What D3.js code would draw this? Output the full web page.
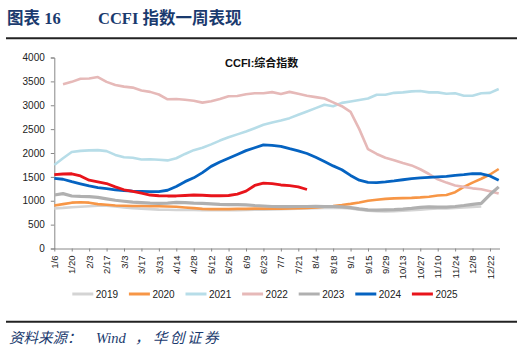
<!DOCTYPE html>
<html><head><meta charset="utf-8">
<script src="https://cdn.jsdelivr.net/npm/d3@7/dist/d3.min.js"></script>
<style>
html,body{margin:0;padding:0;background:#fff;}
svg{display:block;}
</style></head>
<body>
<svg id="chart" width="524" height="352"></svg>
<script>
const categories = ["1/6","1/13","1/20","1/27","2/3","2/10","2/17","2/24","3/3","3/10","3/17","3/24","3/31","4/7","4/14","4/21","4/28","5/5","5/12","5/19","5/26","6/2","6/9","6/16","6/23","6/30","7/7","7/14","7/21","7/28","8/4","8/11","8/18","8/25","9/1","9/8","9/15","9/22","9/29","10/6","10/13","10/20","10/27","11/3","11/10","11/17","11/24","12/1","12/8","12/15","12/22","12/29"];
const yTicks = [0,500,1000,1500,2000,2500,3000,3500,4000];
const s2019 = [840,850,865,875,885,895,895,880,860,845,835,825,815,810,805,805,805,800,800,800,800,800,805,810,815,820,825,830,835,840,845,850,855,850,840,810,790,780,775,780,790,800,815,830,840,840,850,860,870,880,null,null];
const s2020 = [900,930,960,970,960,930,915,900,895,890,890,885,885,880,875,860,845,830,825,825,825,830,830,835,835,835,835,840,845,850,860,875,890,910,935,965,1000,1020,1040,1050,1055,1060,1070,1085,1110,1120,1180,1290,1380,1460,1550,1665];
const s2021 = [1750,1890,2020,2045,2055,2060,2040,1960,1910,1900,1865,1870,1860,1845,1890,1980,2060,2110,2180,2260,2330,2390,2450,2520,2590,2640,2680,2730,2800,2870,2940,3010,2980,3050,3080,3110,3140,3220,3220,3260,3270,3290,3300,3270,3270,3240,3250,3200,3200,3250,3260,3340];
const s2022 = [null,3440,3490,3555,3560,3590,3490,3425,3390,3370,3310,3280,3225,3125,3130,3115,3095,3055,3085,3130,3190,3195,3230,3250,3250,3275,3235,3280,3240,3200,3170,3140,3060,2980,2860,2500,2080,1980,1900,1850,1790,1740,1660,1560,1450,1380,1320,1290,1260,1240,1200,1150];
const s2023 = [1120,1150,1100,1090,1085,1070,1040,1010,990,970,960,950,945,950,965,960,950,945,935,925,920,920,915,900,890,880,875,875,880,880,885,880,880,870,855,830,810,805,810,815,825,840,860,870,865,865,880,900,925,945,1130,1290];
const s2024 = [1470,1450,1400,1355,1310,1275,1255,1230,1215,1200,1195,1190,1190,1220,1300,1400,1480,1590,1720,1810,1890,1970,2050,2110,2170,2160,2140,2090,2045,1990,1910,1820,1730,1650,1530,1430,1385,1380,1395,1415,1440,1465,1480,1490,1500,1510,1530,1545,1570,1565,1520,1430];
const s2025 = [1545,1560,1565,1520,1430,1395,1360,1290,1230,1195,1160,1120,1105,1100,1100,1110,1120,1115,1105,1105,1110,1140,1200,1320,1370,1360,1330,1315,1290,1235];
const seriesNames = ["2019","2020","2021","2022","2023","2024","2025"];
const seriesColors = ["#d4d4d4","#f79646","#b7dde8","#e6b9b8","#b0b0b0","#0563c1","#e8141b"];
const seriesData = [s2019,s2020,s2021,s2022,s2023,s2024,s2025];
const seriesWidths = [2.6,2.6,2.6,2.6,3.2,2.8,2.8];

const svg = d3.select("#chart");
const navy = "#1a3a6e";

// Title
svg.append("text").attr("x",7).attr("y",24)
  .attr("font-family","'Liberation Serif','Noto Sans CJK SC',serif")
  .attr("font-weight","bold").attr("font-size",16.5).attr("fill",navy)
  .text("图表 16");
svg.append("text").attr("x",98).attr("y",24)
  .attr("font-family","'Liberation Serif','Noto Sans CJK SC',serif")
  .attr("font-weight","bold").attr("font-size",16.5).attr("fill",navy)
  .text("CCFI 指数一周表现");
svg.append("line").attr("x1",6).attr("x2",517).attr("y1",38.3).attr("y2",38.3)
  .attr("stroke","#222").attr("stroke-width",2);
svg.append("line").attr("x1",6).attr("x2",517).attr("y1",321.7).attr("y2",321.7)
  .attr("stroke","#222").attr("stroke-width",2);

// Source
const src = svg.append("text").attr("y",343)
  .attr("font-family","'Liberation Serif','Noto Sans CJK SC',serif")
  .attr("font-style","italic").attr("font-size",14.5).attr("fill",navy);
src.append("tspan").attr("x",9).text("资料来源：");
src.append("tspan").attr("x",96).text("Wind");
src.append("tspan").attr("x",135).text("，");
src.append("tspan").attr("x",153).attr("letter-spacing",2.5).text("华创证券");

// Scales
const x = d3.scalePoint().domain(categories).range([54.3,498.7]).padding(0);
const y = d3.scaleLinear().domain([0,4000]).range([248.5,57.5]);

// Y axis
const yAxis = d3.axisLeft(y).tickValues(yTicks).tickSize(3.5).tickPadding(6).tickFormat(d3.format("d"));
const gy = svg.append("g").attr("transform","translate(54.3,0)").call(yAxis);
gy.selectAll("path.domain").attr("stroke","#888").attr("stroke-width",1);
gy.selectAll(".tick line").attr("stroke","#888");
gy.selectAll("text").attr("font-family","'Liberation Sans',Arial,sans-serif").attr("font-size",10).attr("fill","#222");

// X axis
const xAxis = d3.axisBottom(x).tickValues(categories.filter((d,i)=>i%2===0)).tickSize(3).tickSizeOuter(0);
const gx = svg.append("g").attr("transform","translate(0,248.5)").call(xAxis);
gx.selectAll("path.domain").attr("stroke","#888").attr("stroke-width",1).attr("d","M54.3,0.5H500");
gx.selectAll(".tick line").attr("stroke","#888");
gx.selectAll("text")
  .attr("font-family","'Liberation Sans',Arial,sans-serif").attr("font-size",9.5).attr("fill","#222")
  .attr("transform","rotate(-90)").attr("text-anchor","end")
  .attr("x",-7).attr("y",0).attr("dy","0.33em");

// Chart title
svg.append("text").attr("x",225).attr("y",67)
  .attr("font-family","'Liberation Sans','Noto Sans CJK SC',sans-serif")
  .attr("font-weight","bold").attr("font-size",11).attr("fill","#111")
  .text("CCFI:综合指数");

// Lines
const line = d3.line().defined(d=>d.v!=null).x(d=>x(d.c)).y(d=>y(d.v));
seriesData.forEach((arr,k)=>{
  const pts = arr.map((v,i)=>({c:categories[i],v:v}));
  svg.append("path").datum(pts).attr("d",line).attr("fill","none")
    .attr("stroke",seriesColors[k]).attr("stroke-width",seriesWidths[k])
    .attr("stroke-linejoin","round").attr("stroke-linecap","butt");
});

// Legend
const lg = svg.append("g");
seriesNames.forEach((n,k)=>{
  const x0 = 72.3 + k*56.6;
  lg.append("line").attr("x1",x0).attr("x2",x0+21).attr("y1",294).attr("y2",294)
    .attr("stroke",seriesColors[k]).attr("stroke-width",3);
  lg.append("text").attr("x",x0+23.5).attr("y",297.6)
    .attr("font-family","'Liberation Sans',Arial,sans-serif").attr("font-size",10).attr("fill","#222")
    .text(n);
});
</script>
</body></html>
